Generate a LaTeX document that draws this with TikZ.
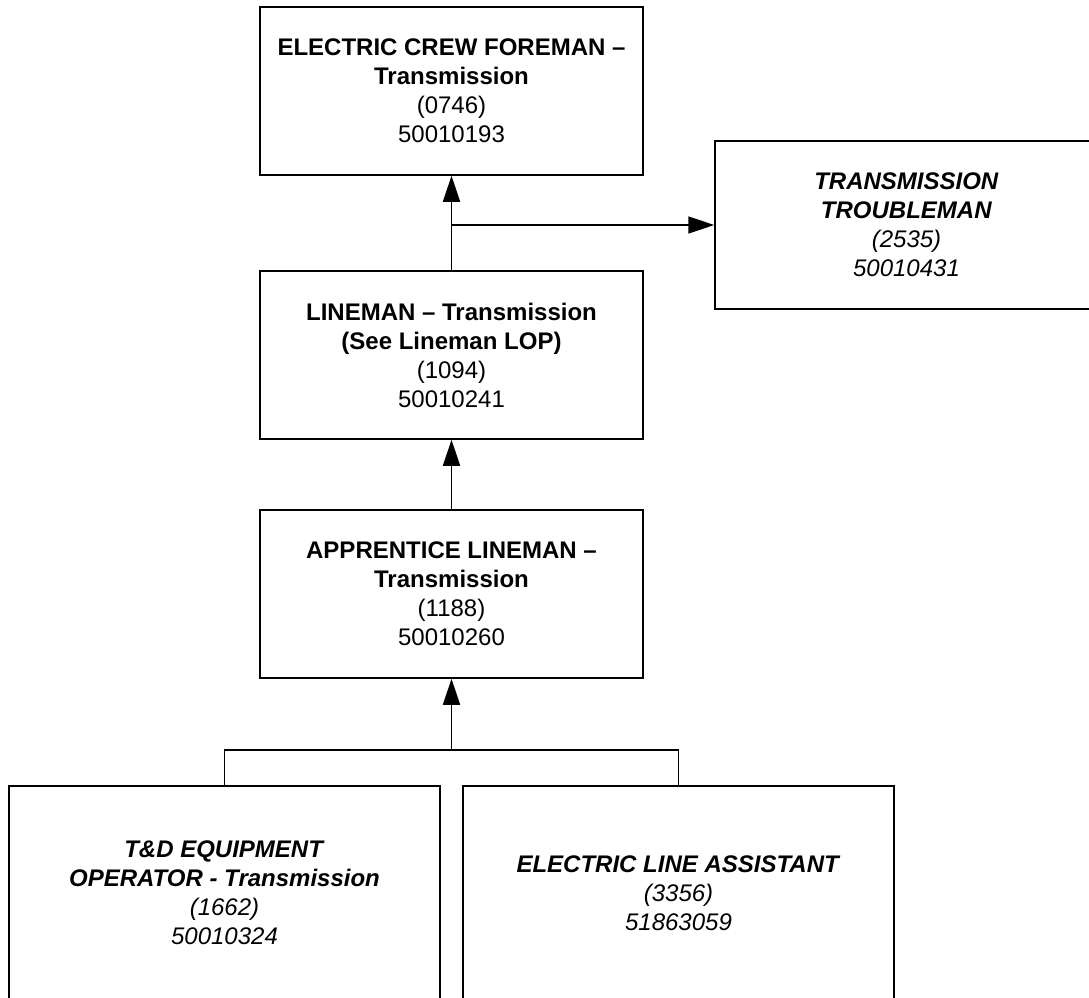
\documentclass[tikz,border=0pt]{standalone}
\usepackage{fontspec}
\setmainfont{Liberation Sans}
\usetikzlibrary{arrows.meta}

\begin{document}
\begin{tikzpicture}[x=1pt,y=-1pt,
job/.style={draw,line width=1.5pt,minimum width=383pt,minimum height=168pt,
  inner sep=0pt,align=center,font=\fontsize{24}{29}\selectfont},
wide/.style={minimum width=431pt,minimum height=214pt},
link/.style={line width=1.5pt},
>={Triangle[length=26pt,width=17pt]}
]
\useasboundingbox (0,0) rectangle (1089,998);

% The boxes
\node[job] (foreman) at (451.5,91) {\textbf{ELECTRIC CREW FOREMAN –}\\\textbf{Transmission}\\(0746)\\50010193};
\node[job] (trouble) at (906.5,225) {\textbf{\textit{TRANSMISSION}}\\\textbf{\textit{TROUBLEMAN}}\\\textit{(2535)}\\\textit{50010431}};
\node[job] (lineman) at (451.5,355) {\textbf{LINEMAN – Transmission}\\\textbf{(See Lineman LOP)}\\(1094)\\50010241};
\node[job] (apprentice) at (451.5,594) {\textbf{APPRENTICE LINEMAN –}\\\textbf{Transmission}\\(1188)\\50010260};
\node[job,wide] (operator) at (224.5,893) {\textbf{\textit{T\&D EQUIPMENT}}\\\textbf{\textit{OPERATOR - Transmission}}\\\textit{(1662)}\\\textit{50010324}};
\node[job,wide] (assistant) at (678.5,893) {\textbf{\textit{ELECTRIC LINE ASSISTANT}}\\\textit{(3356)}\\\textit{51863059}};

% The connectors
\coordinate (split) at (451.5,225);
\coordinate (join) at (451.5,750);
\draw[link,->] (lineman.north) -- (foreman.south);
\draw[link,->] (split) -- (trouble.west);
\draw[link,->] (apprentice.north) -- (lineman.south);
\draw[link] (operator.north) |- (join) -| (assistant.north);
\draw[link,->] (join) -- (apprentice.south);
\end{tikzpicture}
\end{document}
